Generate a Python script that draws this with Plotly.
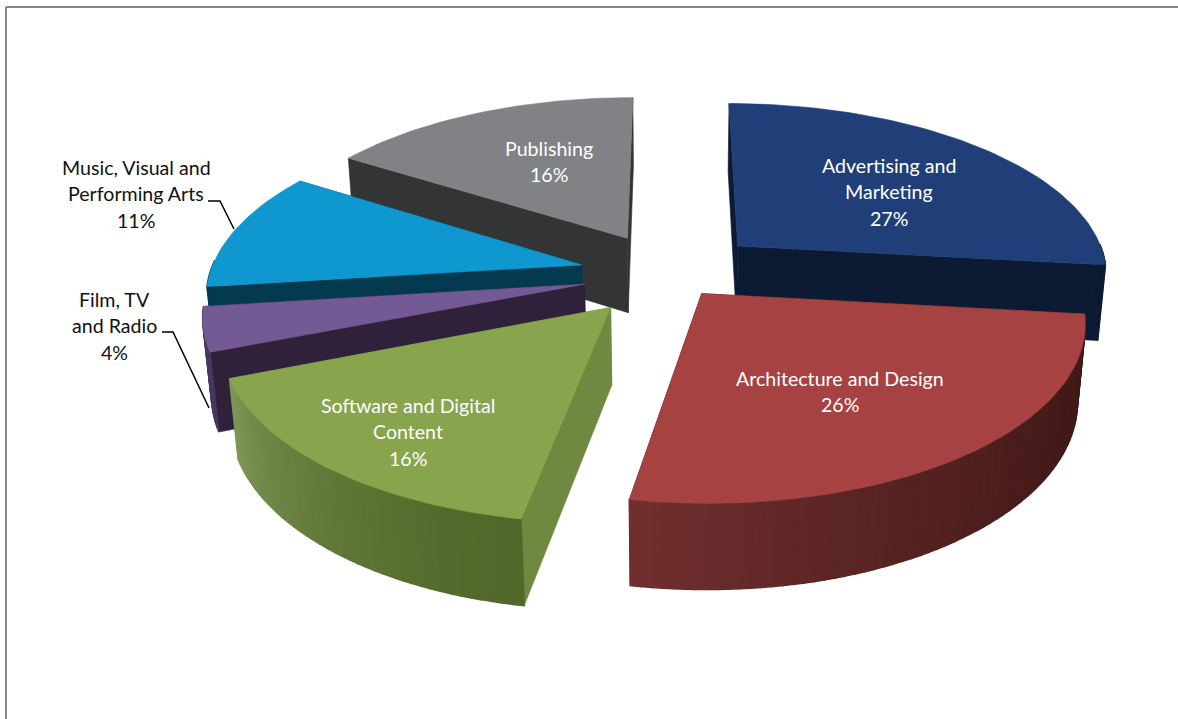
import math
import plotly.graph_objects as go

# ---- data ----
categories = ["Advertising and Marketing", "Architecture and Design", "Software and Digital Content",
              "Film, TV and Radio", "Music, Visual and Performing Arts", "Publishing"]
shares = [26.8, 26.0, 16.2, 4.0, 11.0, 16.0]
label_lines = [["Advertising and", "Marketing", "27%"],
               ["Architecture and Design", "26%"],
               ["Software and Digital", "Content", "16%"],
               ["Film, TV", "and Radio", "4%"],
               ["Music, Visual and", "Performing Arts", "11%"],
               ["Publishing", "16%"]]

# ---- styles ----
top_colors = ["#203f78", "#a64241", "#88a44c", "#735a94", "#0f98cf", "#808285"]
radial_colors = ["#0c1a33", "#4a1a18", "#6f8a40", "#2e2139", "#043a50", "#333534"]
arc_light = [(12, 26, 51), (112, 46, 46), (125, 150, 85), (70, 55, 95), (4, 58, 80), (70, 70, 72)]
arc_dark = [(12, 26, 51), (62, 24, 22), (82, 104, 42), (70, 55, 95), (4, 58, 80), (70, 70, 72)]
explode = [0.25, 0.14, 0.245, 0.235, 0.245, 0.245]
draw_order = [5, 0, 4, 3, 2, 1]
label_pos = [(889, 165), (840, 378), (408, 405), (114, 299), (136, 167), (549, 148)]
label_color = ["white", "white", "white", "#111111", "#111111", "white"]
line_h = 26.5

CX, CY, F, D = 670, 274, 372, 5.9
ALPHA = math.radians(27.5)
H = 0.235


def project(X, Y, Z):
    up = Z * math.cos(ALPHA) - Y * math.sin(ALPHA)
    depth = D - (Y * math.cos(ALPHA) + Z * math.sin(ALPHA))
    s = F * D / depth
    return CX + X * s, CY - up * s


def ground(theta, r, ox, oy):
    return ox + r * math.sin(theta), oy - r * math.cos(theta)


fig = go.Figure()


def poly(pts, color, w=0.6):
    xs = [p[0] for p in pts] + [pts[0][0]]
    ys = [p[1] for p in pts] + [pts[0][1]]
    fig.add_trace(go.Scatter(x=xs, y=ys, mode="lines", fill="toself", fillcolor=color,
                             line=dict(color=color, width=w), hoverinfo="skip", showlegend=False))


total = sum(shares)
starts = []
acc = 0
for v in shares:
    starts.append(acc)
    acc += v

for i in draw_order:
    a0 = 2 * math.pi * starts[i] / total
    a1 = 2 * math.pi * (starts[i] + shares[i]) / total
    mid = (a0 + a1) / 2
    ox, oy = ground(mid, explode[i], 0, 0)
    n = max(8, int(shares[i] * 2.5))
    ang = [a0 + (a1 - a0) * k / n for k in range(n + 1)]
    rim = [ground(a, 1, ox, oy) for a in ang]
    # radial walls
    for a in (a0, a1):
        px, py = ground(a, 1, ox, oy)
        q = [project(ox, oy, 0), project(px, py, 0), project(px, py, -H), project(ox, oy, -H)]
        poly(q, radial_colors[i])
    # outer wall, shaded strip by strip
    for k in range(n):
        t = (k / max(n - 1, 1)) ** 1.5
        c = [round(arc_dark[i][j] * (1 - t) + arc_light[i][j] * t) for j in range(3)]
        (x0, y0), (x1, y1) = rim[k], rim[k + 1]
        # only strips that face the viewer
        if (y0 + y1) / 2 - oy < -0.02:
            continue
        q = [project(x0, y0, 0), project(x1, y1, 0), project(x1, y1, -H), project(x0, y0, -H)]
        poly(q, "rgb(%d,%d,%d)" % tuple(c), w=1.5)
    # top
    poly([project(ox, oy, 0)] + [project(x, y, 0) for x, y in rim], top_colors[i])

# leader lines
leaders = [([208, 220, 234], [201, 201, 229]), ([162, 173, 209], [332, 332, 408])]
for lx, ly in leaders:
    fig.add_trace(go.Scatter(x=lx, y=ly, mode="lines", line=dict(color="black", width=1.5),
                             hoverinfo="skip", showlegend=False))

for i, lines in enumerate(label_lines):
    for j, t in enumerate(lines):
        fig.add_annotation(x=label_pos[i][0], y=label_pos[i][1] + j * line_h, text=t, showarrow=False,
                           xanchor="center", yanchor="middle",
                           font=dict(family="Lato", size=19.6, color=label_color[i]))

border = "#868686"
fig.add_shape(type="line", x0=6, x1=6, y0=7, y1=719, line=dict(color=border, width=2))
fig.add_shape(type="line", x0=6, x1=1178, y0=7, y1=7, line=dict(color=border, width=2))

fig.update_layout(width=1178, height=719, margin=dict(l=0, r=0, t=0, b=0),
                  paper_bgcolor="white", plot_bgcolor="white", showlegend=False,
                  xaxis=dict(range=[0, 1178], visible=False, fixedrange=True),
                  yaxis=dict(range=[719, 0], visible=False, fixedrange=True))
fig.write_html("out.html", config={"displayModeBar": False},
               post_script="document.body.style.margin='0';document.body.style.overflow='hidden';")
